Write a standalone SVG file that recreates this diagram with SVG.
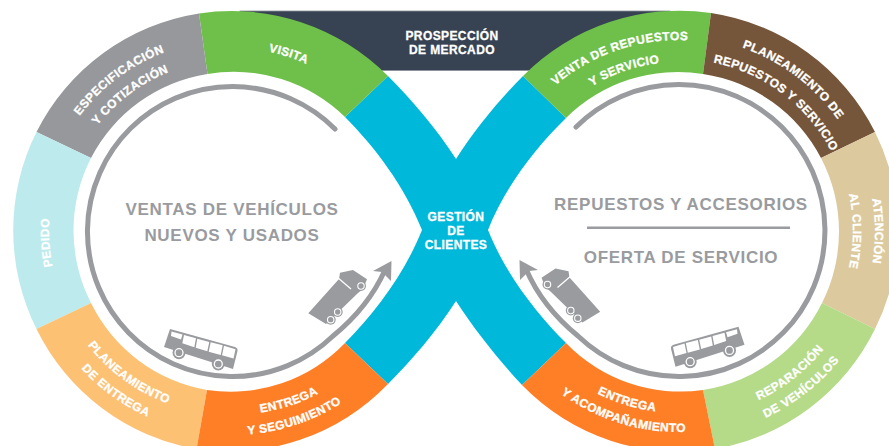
<svg xmlns="http://www.w3.org/2000/svg" width="889" height="446" viewBox="0 0 889 446">
<style>
.w{font-family:"Liberation Sans",Arial,sans-serif;font-weight:700;font-size:12px;letter-spacing:.4px;fill:#fff;text-anchor:middle;stroke:#fff;stroke-width:.3px}
.m{font-family:"Liberation Sans",Arial,sans-serif;font-weight:700;font-size:17px;fill:#999b9f;text-anchor:middle;letter-spacing:.7px}
.arc{fill:none;stroke:#999b9f;stroke-width:5;stroke-linecap:round}
.g{fill:#999b9f}
</style>
<defs>
<path id="lt191" d="M41,231A191,191 0 0 1 423,231"/>
<path id="lt171" d="M61,231A171,171 0 0 1 403,231"/>
<path id="lt183" d="M49,231A183,183 0 0 1 415,231"/>
<path id="lb184" d="M48,231A184,184 0 0 0 416,231"/>
<path id="lb204" d="M28,231A204,204 0 0 0 436,231"/>
<path id="rt191" d="M488,231A191,191 0 0 1 870,231"/>
<path id="rt169" d="M510,231A169,169 0 0 1 848,231"/>
<path id="rt194" d="M485,231A194,194 0 0 1 873,231"/>
<path id="rt172" d="M507,231A172,172 0 0 1 851,231"/>
<path id="rb187" d="M492,231A187,187 0 0 0 866,231"/>
<path id="rb206" d="M473,231A206,206 0 0 0 885,231"/>
<path id="rb182" d="M497,231A182,182 0 0 0 861,231"/>
<path id="rb201" d="M478,231A201,201 0 0 0 880,231"/>
<g id="bus">
<path class="g" d="M170,329L235,347Q238,348 237.500,351L233,369L164,347Z"/>
<path fill="#fff" d="M171.500,331.500L182.500,334.500L181,339.500L171,336ZM184,335L196,338.300L194.300,347.300L182.300,343.300ZM197.300,338.700L209.300,342L207.300,351.300L195.700,347.700ZM210.700,342.300L222.700,345.300L220.700,355L208.700,351.700ZM224,345.700L235.500,349.300L233.500,358.500L222,355.300Z"/>
<circle class="g" cx="179" cy="352.700" r="6.500"/><circle cx="179" cy="352.700" r="4" fill="none" stroke="#fff" stroke-width="1.300"/>
<circle class="g" cx="218.300" cy="364" r="6.500"/><circle cx="218.300" cy="364" r="4" fill="none" stroke="#fff" stroke-width="1.300"/>
</g>
<g id="truck">
<path class="g" d="M308.300,313.300L339,279L340,272.700L353,270L367,279.300L363,289L358,293L326,324Z"/>
<path d="M337,277L351,289" fill="none" stroke="#fff" stroke-width="1.300"/>
<circle class="g" cx="361" cy="286" r="5"/><circle cx="361" cy="286" r="3.200" fill="none" stroke="#fff" stroke-width="1.100"/>
<circle class="g" cx="337.700" cy="312" r="5"/><circle cx="337.700" cy="312" r="3.200" fill="none" stroke="#fff" stroke-width="1.100"/>
<circle class="g" cx="330.700" cy="319.700" r="5"/><circle cx="330.700" cy="319.700" r="3.200" fill="none" stroke="#fff" stroke-width="1.100"/>
</g>
</defs>
<rect width="889" height="446" fill="#fff"/>
<g id="prospeccion">
<rect x="240" y="11" width="430" height="59.500" fill="#374352" stroke="#8b9199" stroke-width=".8"/>
<text class="w" x="452" y="40">PROSPECCIÓN</text>
<text class="w" x="452" y="54">DE MERCADO</text>
</g>
<g id="gestion">
<path fill="#00b8da" d="M388,76C412,100 436,128 456,159C476,128 499,100 523,76L566,118C536,147 505,187 488,230C505,273 536,313 566,343L522,385C499,360 476,332 456,301C436,332 412,360 388,384L345,343C375,313 405,273 422,230C405,187 375,147 345,117Z"/>
<text class="w" x="456" y="221">GESTIÓN</text>
<text class="w" x="456" y="235">DE</text>
<text class="w" x="456" y="249">CLIENTES</text>
</g>
<g id="visita">
<path fill="#6fc04a" d="M199,13.500A220,220 0 0 1 388,76L345,117A159,159 0 0 0 207.500,74Z"/>
<g transform="rotate(17.800 232 231)"><text class="w"><textPath href="#lt183" startOffset="50%">VISITA</textPath></text></g>
</g>
<g id="especificacion">
<path fill="#96989b" d="M36.500,132A220,220 0 0 1 199,13.500L207.500,74A159,159 0 0 0 91,158Z"/>
<g transform="rotate(-36.800 232 231)"><text class="w"><textPath href="#lt191" startOffset="50%">ESPECIFICACIÓN</textPath></text><text class="w"><textPath href="#lt171" startOffset="50%">Y COTIZACIÓN</textPath></text></g>
</g>
<g id="pedido">
<path fill="#bdeaec" d="M36.500,329A220,220 0 0 1 36.500,132L91,158A159,159 0 0 0 91,303Z"/>
<g transform="rotate(-93.600 232 231)"><text class="w"><textPath href="#lt183" startOffset="50%">PEDIDO</textPath></text></g>
</g>
<g id="planeamiento-entrega">
<path fill="#fdc174" d="M196.500,449A220,220 0 0 1 36.500,329L91,303A159,159 0 0 0 207,390Z"/>
<g transform="rotate(36 232 231)"><text class="w"><textPath href="#lb184" startOffset="50%">PLANEAMIENTO</textPath></text><text class="w"><textPath href="#lb204" startOffset="50%">DE ENTREGA</textPath></text></g>
</g>
<g id="entrega-seguimiento">
<path fill="#ff7f27" d="M388,384A220,220 0 0 1 196.500,449L207,390A159,159 0 0 0 345,343Z"/>
<g transform="rotate(-18.500 232 231)"><text class="w"><textPath href="#lb184" startOffset="50%">ENTREGA</textPath></text><text class="w"><textPath href="#lb204" startOffset="50%">Y SEGUIMIENTO</textPath></text></g>
</g>
<g id="venta-repuestos">
<path fill="#6fc04a" d="M523,76A220,220 0 0 1 711,13L703,74A159,159 0 0 0 566,118Z"/>
<g transform="rotate(-18.800 679 231)"><text class="w"><textPath href="#rt191" startOffset="50%">VENTA DE REPUESTOS</textPath></text><text class="w"><textPath href="#rt169" startOffset="50%">Y SERVICIO</textPath></text></g>
</g>
<g id="planeamiento-repuestos">
<path fill="#75563a" d="M711,13A220,220 0 0 1 875,132L821,158A159,159 0 0 0 703,74Z"/>
<g transform="rotate(37 679 231)"><text class="w"><textPath href="#rt194" startOffset="50%">PLANEAMIENTO DE</textPath></text><text class="w"><textPath href="#rt172" startOffset="50%">REPUESTOS Y SERVICIO</textPath></text></g>
</g>
<g id="atencion">
<path fill="#dcca9e" d="M875,132A220,220 0 0 1 875,329L822,303A159,159 0 0 0 821,158Z"/>
<g transform="translate(2 0) rotate(90 679 231)"><text class="w"><textPath href="#rt194" startOffset="50%">ATENCIÓN</textPath></text><text class="w"><textPath href="#rt172" startOffset="50%">AL CLIENTE</textPath></text></g>
</g>
<g id="reparacion">
<path fill="#b5da88" d="M875,329A220,220 0 0 1 715,449L703,390A159,159 0 0 0 822,303Z"/>
<g transform="rotate(-38 679 231)"><text class="w"><textPath href="#rb187" startOffset="50%">REPARACIÓN</textPath></text><text class="w"><textPath href="#rb206" startOffset="50%">DE VEHÍCULOS</textPath></text></g>
</g>
<g id="entrega-acompanamiento">
<path fill="#ff7f27" d="M715,449A220,220 0 0 1 522,385L566,343A159,159 0 0 0 703,390Z"/>
<g transform="rotate(17 679 231)"><text class="w"><textPath href="#rb182" startOffset="50%">ENTREGA</textPath></text><text class="w"><textPath href="#rb201" startOffset="50%">Y ACOMPAÑAMIENTO</textPath></text></g>
</g>
<g id="ventas">
<text class="m" x="232" y="214.500">VENTAS DE VEHÍCULOS</text>
<text class="m" x="232" y="240.500">NUEVOS Y USADOS</text>
<use href="#bus"/>
<use href="#truck"/>
</g>
<g id="repuestos">
<text class="m" x="681" y="209.500">REPUESTOS Y ACCESORIOS</text>
<rect x="587" y="226.500" width="203" height="2.500" fill="#999b9f"/>
<text class="m" x="681" y="262.500">OFERTA DE SERVICIO</text>
<use href="#bus" transform="matrix(-1 0 0 1 908.500 -2.300)"/>
<use href="#truck" transform="matrix(-1 0 0 1 908.500 -1.500)"/>
</g>
<g id="connectors">
<path class="arc" d="M335,129A145,145 0 1 0 333,336C355,318 373,297 385,270"/>
<path class="g" d="M391.500,261L373,271L382,272L391,281Z"/>
<path class="arc" d="M576,127A146,146 0 1 1 578,336C556,318 538,297 526,269"/>
<path class="g" d="M519.500,260L538,270L529,271L520,280Z"/>
</g>
</svg>
